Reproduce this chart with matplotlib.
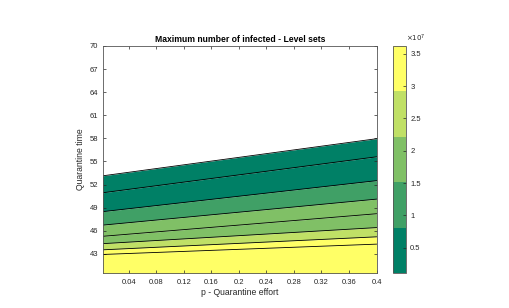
import numpy as np
import matplotlib
matplotlib.use("Agg")
import matplotlib.pyplot as plt
from matplotlib.colors import ListedColormap, BoundaryNorm
from matplotlib.cm import ScalarMappable
from matplotlib.ticker import FuncFormatter

plt.rcParams['font.family'] = ['Liberation Sans', 'DejaVu Sans']

# quarantine effort range (x) and level lines read at both ends
p_ends = [0.0, 0.4]
levels = [0.40e7, 0.75e7, 1.20e7, 1.60e7, 2.00e7, 2.50e7, 3.00e7, 3.40e7]
t_at_p0 = [53.1, 50.9, 48.45, 46.7, 45.25, 44.3, 43.5, 42.9]
t_at_p04 = [57.95, 55.6, 52.5, 50.1, 48.2, 46.4, 45.2, 44.25]

# colour limits of the colorbar
c_min, c_max = 0.11e7, 3.62e7
cbar_ticks = [0.5e7, 1.0e7, 1.5e7, 2.0e7, 2.5e7, 3.0e7, 3.5e7]

x_ticks = [0.04, 0.08, 0.12, 0.16, 0.2, 0.24, 0.28, 0.32, 0.36, 0.4]
y_ticks = [43, 46, 49, 52, 55, 58, 61, 64, 67, 70]

axis_col = '#262626'

cmap = ListedColormap(plt.cm.summer(np.linspace(0, 1, 5)))
norm = BoundaryNorm(np.linspace(c_min, c_max, 6), cmap.N)

fig = plt.figure(figsize=(5.10, 3.08), dpi=100)
ax = fig.add_axes([103.5 / 510, 35 / 308, 273 / 510, 227 / 308])

# filled bands between consecutive level lines, bottom band below the last line
lower_lines = t_at_p0[1:] + [40.0], t_at_p04[1:] + [40.0]
for i, lev in enumerate(levels):
    top = [t_at_p0[i], t_at_p04[i]]
    bot = [lower_lines[0][i], lower_lines[1][i]]
    ax.fill_between(p_ends, bot, top, color=cmap(norm(lev)), lw=0, zorder=1)
for i in range(len(levels)):
    ax.plot(p_ends, [t_at_p0[i], t_at_p04[i]], color='black', lw=0.6, zorder=2)

ax.set_xlim(0.0036, 0.4)
ax.set_ylim(40.5, 70)
ax.set_xticks(x_ticks)
ax.set_xticklabels([f"{v:g}" for v in x_ticks])
ax.set_yticks(y_ticks)
ax.tick_params(direction='in', length=2.5, width=0.5, colors=axis_col,
               labelsize=5.5, top=True, right=True)
ax.tick_params(axis='x', pad=4)
ax.tick_params(axis='y', pad=4)
for s in ax.spines.values():
    s.set_color('#555555')
    s.set_linewidth(0.6)

ax.set_title("Maximum number of infected - Level sets", fontsize=6.2,
             fontweight='bold', color='black', pad=3)
ax.set_xlabel("p - Quarantine effort", fontsize=6.2, color=axis_col, labelpad=2)
ax.set_ylabel("Quarantine time", fontsize=6.2, color=axis_col, labelpad=3)

cax = fig.add_axes([393 / 510, 35 / 308, 13 / 510, 227 / 308])
cb = fig.colorbar(ScalarMappable(norm=norm, cmap=cmap), cax=cax)
cb.set_ticks(cbar_ticks)
cb.ax.yaxis.set_major_formatter(FuncFormatter(lambda v, _: f"{v / 1e7:g}"))
cb.ax.tick_params(direction='in', length=2, width=0.5, colors=axis_col,
                  labelsize=5.5, pad=3)
cb.outline.set_edgecolor('#555555')
cb.outline.set_linewidth(0.6)
cb.ax.minorticks_off()
cax.text(1.0, 1.01, r"$\times10^{7}$", transform=cax.transAxes,
         fontsize=5, color=axis_col, ha='left', va='bottom')

fig.savefig("out.png", dpi=100)
